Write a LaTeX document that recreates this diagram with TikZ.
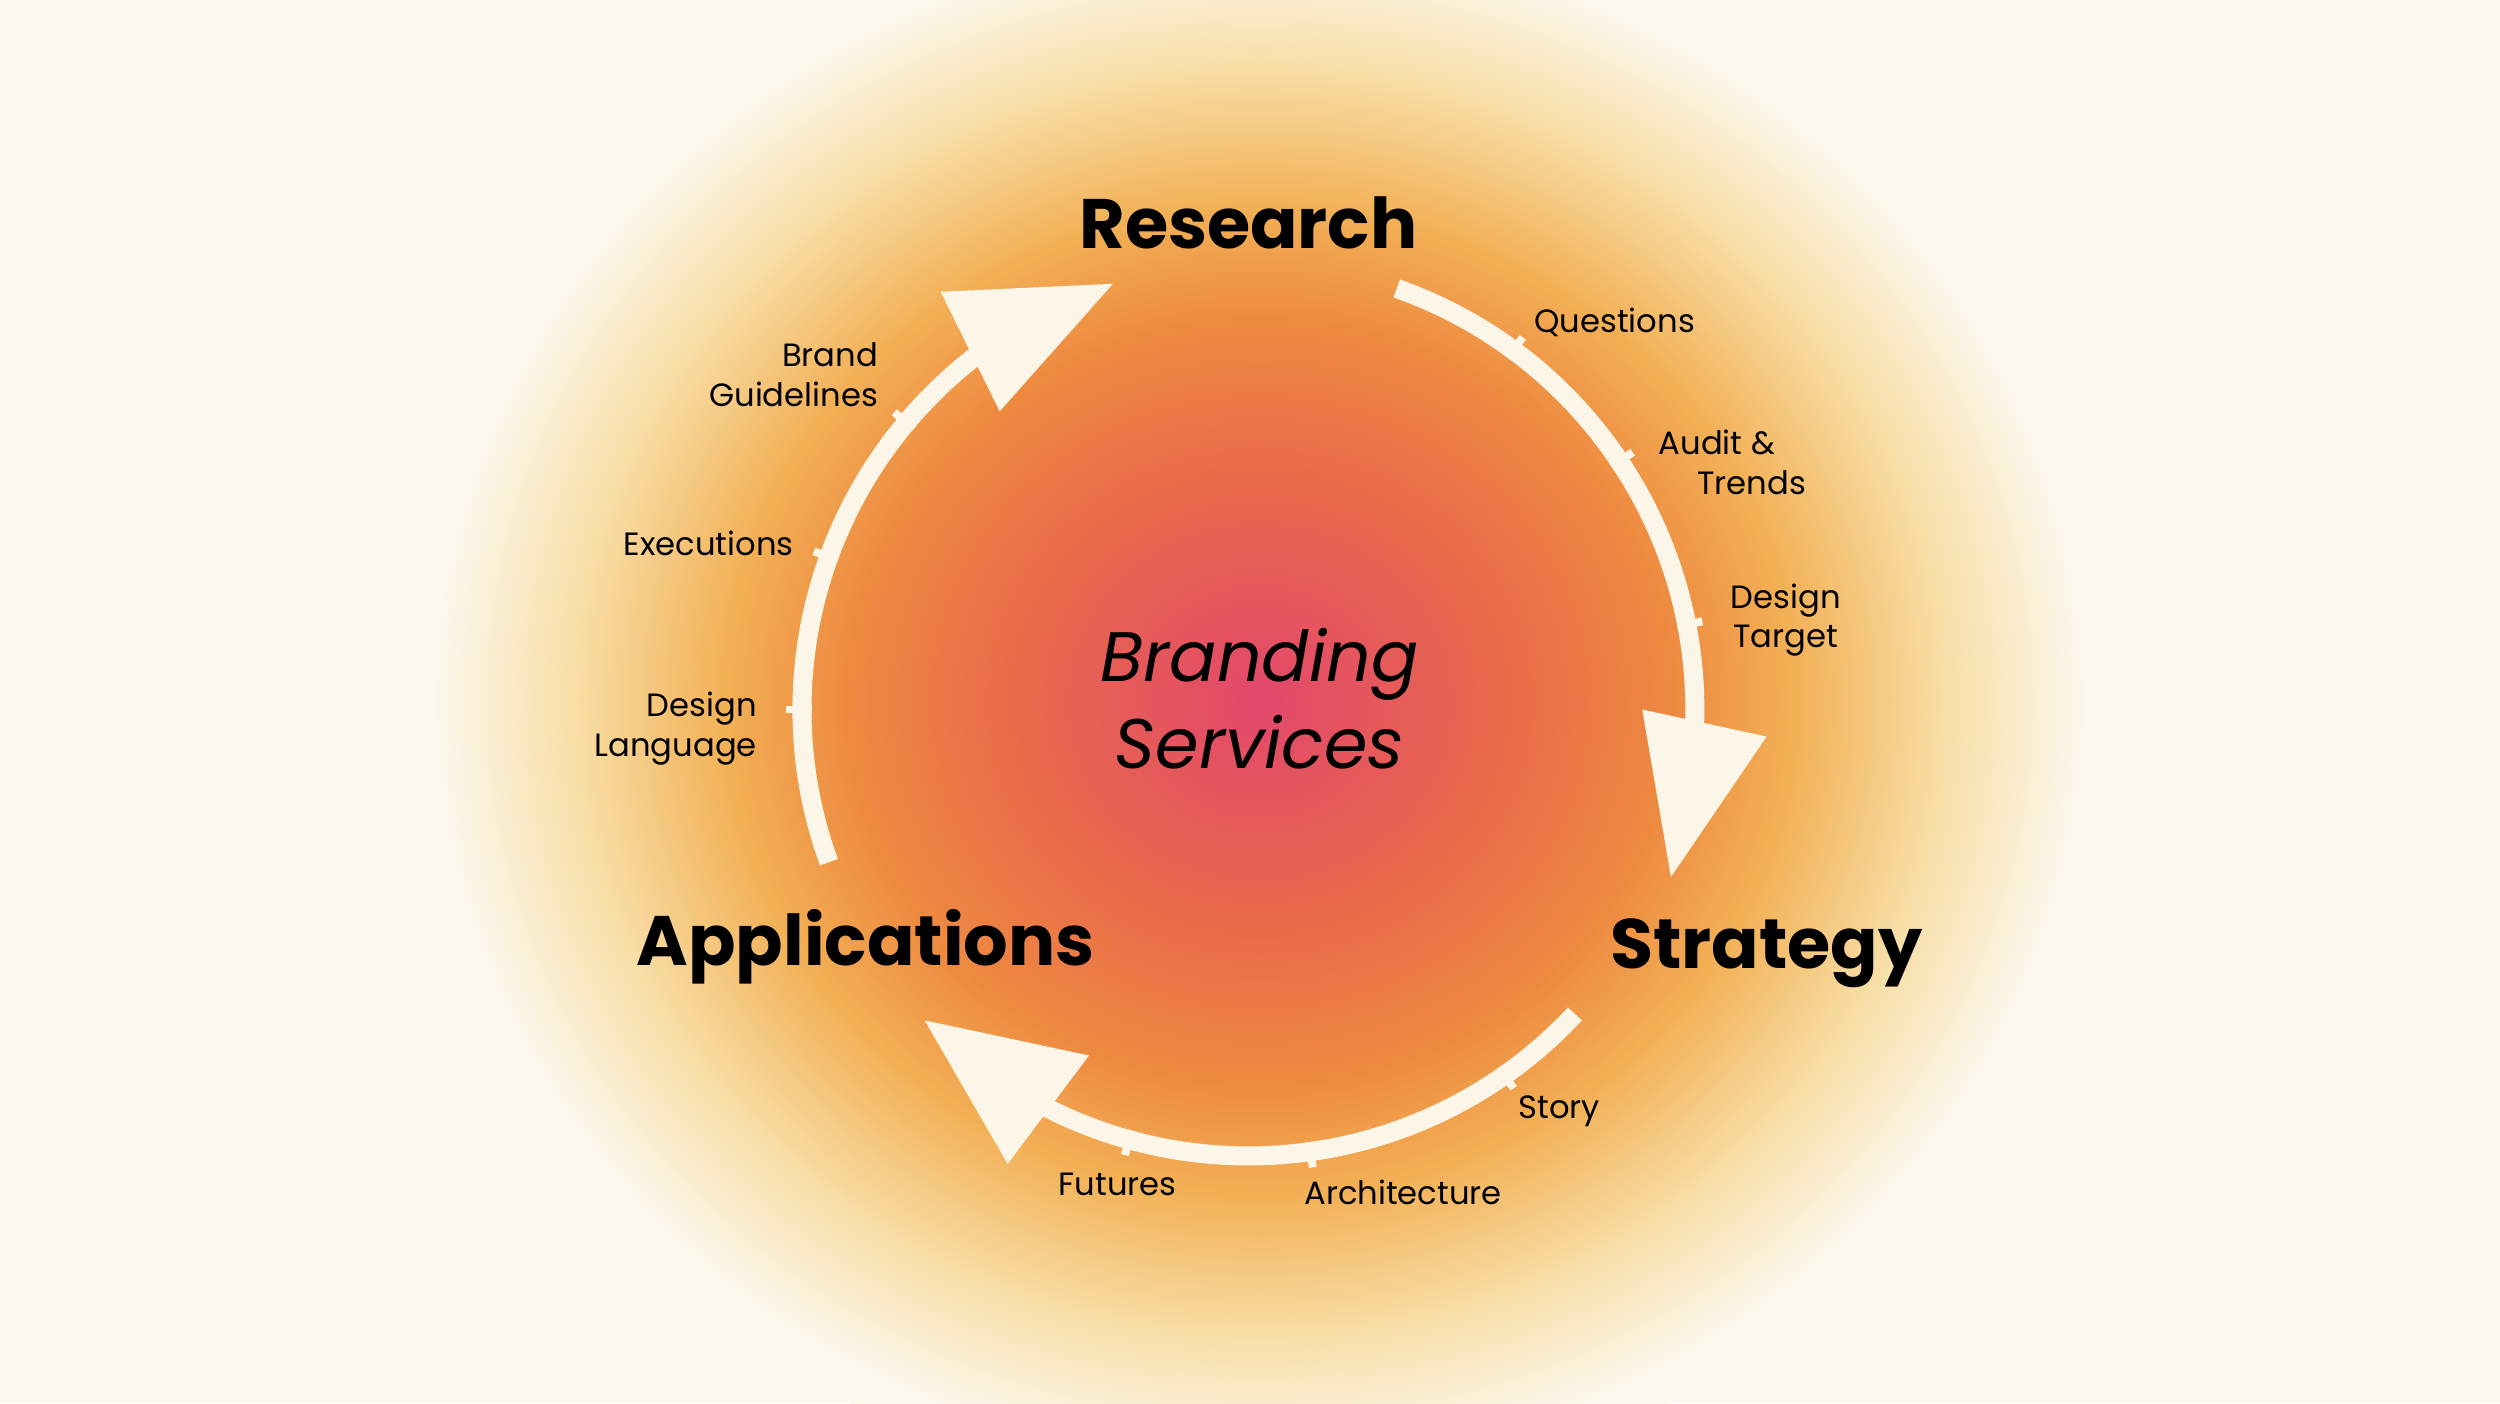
\documentclass[tikz,border=0pt]{standalone}
\usepackage{fontspec}
\usetikzlibrary{calc}
\setmainfont{Poppins}
\definecolor{bg}{HTML}{FCF8EE}
\definecolor{cr}{HTML}{FCF6E8}
\definecolor{c0}{HTML}{E2476C}
\definecolor{c1}{HTML}{E96A4A}
\definecolor{c2}{HTML}{EE8A40}
\definecolor{c3}{HTML}{F2B055}
\definecolor{c4}{HTML}{F8DFA8}
\pgfdeclareradialshading{glow}{\pgfpoint{0bp}{0bp}}{color(0bp)=(c0); color(7bp)=(c1); color(12bp)=(c2); color(15.5bp)=(c3); color(20bp)=(c4); color(24bp)=(bg); color(50bp)=(bg)}
\begin{document}
\begin{tikzpicture}[x=0.02cm,y=0.02cm,
  arc/.style={cr,line width=12*0.567pt},
  tick/.style={cr,line width=5*0.567pt},
  head/.style={fill=cr,draw=none},
  lab/.style={font=\fontsize{11.5}{14}\selectfont,align=center,inner sep=0},
  ttl/.style={font=\fontsize{25}{30}\selectfont\bfseries,inner sep=0}]
\fill[bg] (0,0) rectangle (1568,880);
\useasboundingbox (0,0) rectangle (1568,880);
\shade[shading=glow] (790,440) ellipse (540 and 500);
\coordinate (c) at (783,435);
\def\R{280}
% arcs
\draw[arc] ($(c)+(70.6:\R)$) arc (70.6:-3:\R);
\draw[arc] ($(c)+(-43:\R)$) arc (-43:-119:\R);
\draw[arc] ($(c)+(-160:\R)$) arc (-160:-233:\R);
% heads
\fill[head] (1030,435) -- (1108,418) -- (1048,330) -- cycle;
\fill[head] (580,240) -- (683,218) -- (632,150) -- cycle;
\fill[head] (590,697) -- (698,702) -- (627,622) -- cycle;
% ticks
\foreach \a in {53.6,33.8,11,-55,-82,-105.5,180,160,140}
  \draw[tick] ($(c)+(\a:\R-6)$) -- ($(c)+(\a:\R+10)$);
% labels
\node[lab,anchor=west] (q) at (962,678) {Questions};
\node[lab,align=left,anchor=west] (at) at (1040,590) {Audit \&\\\hspace*{1.2em}Trends};
\node[lab] (dt) at (1120,491) {Design\\Target};
\node[lab] (st) at (978,183) {Story};
\node[lab] (ar) at (880,132) {Architecture};
\node[lab] (fu) at (701,137) {Futures};
\node[lab,align=right,anchor=east] (dl) at (475,423) {Design\\Language};
\node[lab,anchor=east] (ex) at (498,539) {Executions};
\node[lab,align=right,anchor=east] (bg) at (551,645) {Brand\\Guidelines};
\node[ttl] (re) at (783,740) {Research};
\node[ttl] (sg) at (1108,282) {Strategy};
\node[ttl] (ap) at (543,286) {Applications};
\node[font=\fontsize{25}{31}\selectfont\itshape,align=center] (bs) at (790,442) {Branding\\Services};
\end{tikzpicture}
\end{document}
